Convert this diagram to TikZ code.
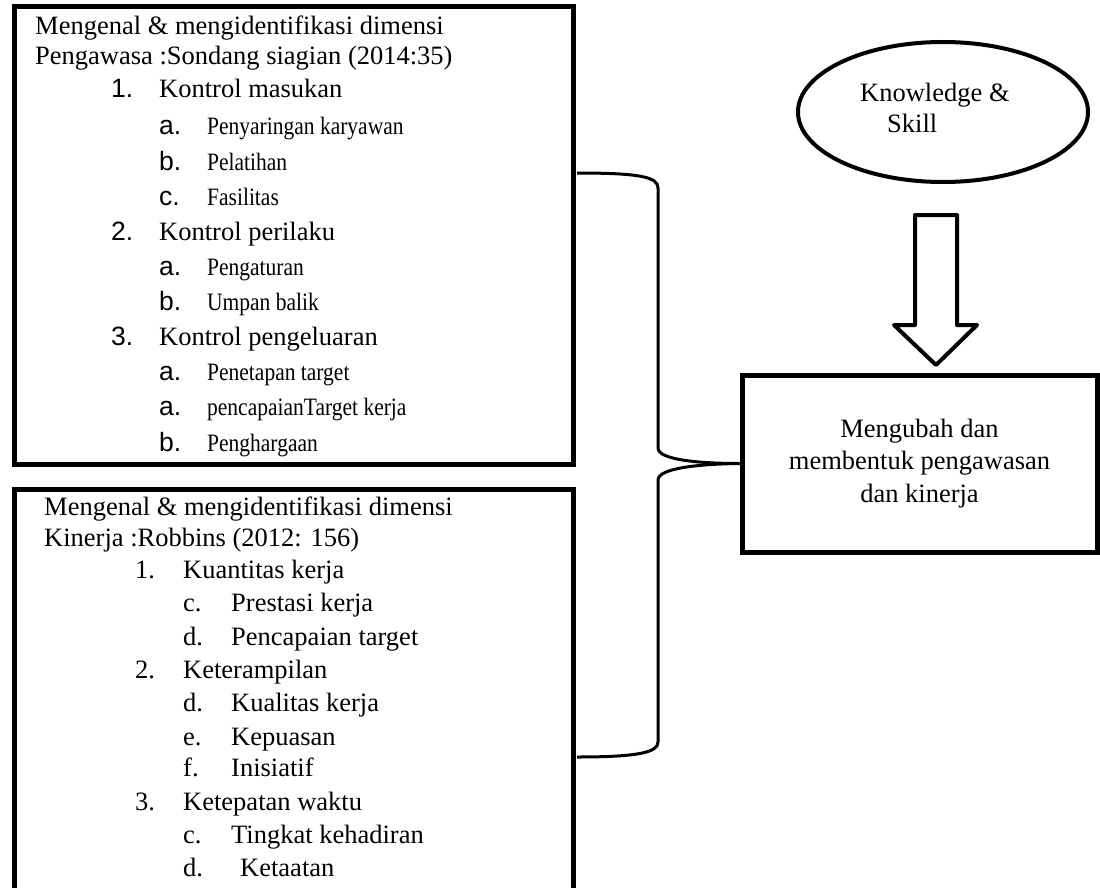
\documentclass[tikz,border=0pt]{standalone}
\usepackage{fontspec}
\setmainfont{Liberation Serif}
\newfontfamily\numfont{Liberation Sans}
\newfontfamily\narrowfont[FakeStretch=0.86]{Liberation Serif}
\usetikzlibrary{shapes.geometric}

\tikzset{
  txt/.style={anchor=base west,inner sep=0pt,font=\fontsize{26.5}{30}\selectfont},
  num/.style={anchor=base west,inner sep=0pt,font=\fontsize{26.5}{30}\numfont},
  sub/.style={anchor=base west,inner sep=0pt,font=\fontsize{25}{30}\narrowfont},
  box/.style={line width=5pt},
  brace/.style={line width=3pt},
}

\begin{document}
\begin{tikzpicture}[x=1pt,y=-1pt]
\useasboundingbox (0,0) rectangle (1100,888);

% Box Pengawasan
\draw[box] (14,7) rectangle (573,464);
\node[txt] (p1) at (35,35) {Mengenal \& mengidentifikasi dimensi};
\node[txt] (p2) at (35,65) {Pengawasa :Sondang siagian (2014:35)};
\foreach \y/\n/\t in {90/1./Kontrol masukan,232/2./Kontrol perilaku,337/3./Kontrol pengeluaran}
{\node[num] (pn\y) at (111,\y+8) {\n};
\node[txt] (pt\y) at (159,\y+8) {\t};}
\foreach \y/\n/\t in {127/a./Penyaringan karyawan,162/b./Pelatihan,197/c./Fasilitas,
  267/a./Pengaturan,302/b./Umpan balik,372/a./Penetapan target,
  407/a./pencapaianTarget kerja,443/b./Penghargaan}
{\node[num] (pa\y) at (159,\y+8) {\n};
\node[sub] (ps\y) at (207,\y+8) {\t};}

% Box Kinerja
\draw[box] (14,900) -- (14,489) -- (573,489) -- (573,900);
\node[txt] (k1) at (44,515) {Mengenal \& mengidentifikasi dimensi};
\node[txt] (k2) at (44,546) {Kinerja :Robbins (2012: 156)};
\foreach \y/\n/\t in {570/1./Kuantitas kerja,670/2./Keterampilan,802/3./Ketepatan waktu}
{\node[txt] (kn\y) at (135,\y+8) {\n};
\node[txt] (kt\y) at (183,\y+8) {\t};}
\foreach \y/\n/\t in {603/c./Prestasi kerja,637/d./Pencapaian target,703/d./Kualitas kerja,
  737/e./Kepuasan,768/f./Inisiatif,835/c./Tingkat kehadiran}
{\node[txt] (ka\y) at (183,\y+8) {\n};
\node[txt] (ks\y) at (231,\y+8) {\t};}
\node[txt] (ka868) at (183,876) {d.};
\node[txt] (ks868) at (240,876) {Ketaatan};

% Knowledge & Skill
\node[draw,ellipse,line width=4pt,minimum width=290pt,minimum height=140pt] (skill) at (943,112) {};
\node[txt] (skill1) at (860,102) {Knowledge \&};
\node[txt] (skill2) at (887,133) {Skill};

% Hasil
\node[draw,box,minimum width=355pt,minimum height=177pt,align=center,
  font=\fontsize{26.5}{32.5}\selectfont] (hasil) at (919.5,463.5)
  {Mengubah dan\\membentuk pengawasan\\dan kinerja};

% Block arrow
\draw[line width=4pt,line join=round] (915,215) -- (957,215) -- (957,325) -- (977,325)
  -- (936,365) -- (894,325) -- (915,325) -- cycle;

% Brace
\coordinate (atas) at (577,173);
\coordinate (bawah) at (577,757);
\draw[brace] (atas) .. controls (640,173) and (658,177) .. (658,188) -- (658,448)
  .. controls (658,460) and (700,463.5) .. (hasil.west);
\draw[brace] (hasil.west) .. controls (700,464) and (658,468) .. (658,480) -- (658,742)
  .. controls (658,752) and (640,757) .. (bawah);
\end{tikzpicture}
\end{document}
